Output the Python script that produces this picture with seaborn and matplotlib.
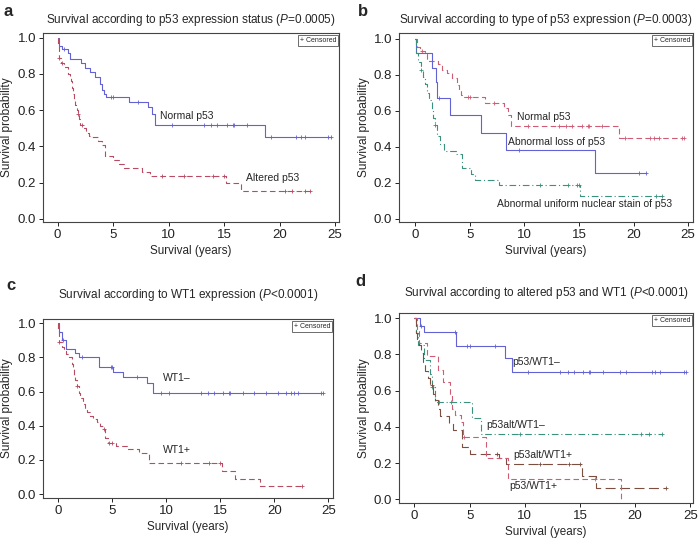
import numpy as np
import matplotlib
matplotlib.use("Agg")
import matplotlib.pyplot as plt
import seaborn as sns

sns.set_style("white")
plt.rcParams["font.family"] = ["Liberation Sans", "DejaVu Sans"]
plt.rcParams["mathtext.fontset"] = "custom"
plt.rcParams["mathtext.it"] = "Liberation Sans:italic"
plt.rcParams["mathtext.rm"] = "Liberation Sans"

# ---------------- data ----------------
# Panel a / b : normal p53
norm_t = [0, 0.15, 0.4, 0.9, 1.1, 2.1, 2.5, 2.9, 3.4, 3.8, 4.0, 4.2, 4.4, 6.4, 8.1, 8.5, 8.8, 18.7, 24.6]
norm_s = [1.0, 0.955, 0.935, 0.915, 0.88, 0.86, 0.83, 0.81, 0.785, 0.745, 0.71, 0.69, 0.675, 0.645, 0.615, 0.58, 0.515, 0.45, 0.45]
norm_c = [0.6, 4.8, 5.0, 7.2, 10.3, 13.2, 13.8, 14.4, 15.3, 15.8, 15.9, 17.1, 19.2, 21.5, 21.9, 22.3, 24.4, 24.6]

# Panel a : altered p53
alt_t = [0, 0.05, 0.1, 0.3, 0.6, 0.9, 1.1, 1.2, 1.3, 1.4, 1.5, 1.6, 1.7, 1.8, 1.9, 2.0, 2.3, 2.6, 2.8, 3.1, 3.6, 4.0, 4.3, 5.0, 5.5, 6.0, 7.6, 8.3, 15.2, 16.5, 22.7]
alt_s = [1.0, 0.96, 0.89, 0.86, 0.84, 0.80, 0.78, 0.76, 0.72, 0.69, 0.66, 0.63, 0.60, 0.58, 0.55, 0.52, 0.50, 0.475, 0.455, 0.45, 0.43, 0.405, 0.345, 0.325, 0.30, 0.28, 0.26, 0.235, 0.195, 0.155, 0.155]
alt_c = [0.1, 0.4, 1.8, 2.2, 9.4, 11.4, 14.0, 15.0, 20.5, 21.1, 22.3, 22.7]

# Panel b : abnormal loss / uniform nuclear stain
loss_t = [0, 0.1, 1.5, 1.9, 2.0, 3.2, 6.0, 8.3, 16.5, 21.1]
loss_s = [1.0, 0.92, 0.84, 0.76, 0.67, 0.575, 0.48, 0.385, 0.255, 0.255]
loss_c = [2.2, 9.5, 20.5, 21.1]

uni_t = [0, 0.1, 0.25, 0.5, 0.7, 0.9, 1.1, 1.3, 1.5, 1.6, 1.8, 2.0, 2.3, 2.6, 3.7, 4.3, 5.1, 5.5, 7.7, 15.1, 22.6]
uni_s = [1.0, 0.92, 0.87, 0.83, 0.79, 0.75, 0.70, 0.66, 0.61, 0.56, 0.52, 0.46, 0.415, 0.38, 0.36, 0.285, 0.25, 0.215, 0.19, 0.125, 0.125]
uni_c = [0.5, 1.8, 11.4, 14.0, 14.8, 15.0, 22.1, 22.6]

# Panel c : WT1
wneg_t = [0, 0.1, 0.4, 0.8, 1.6, 2.0, 3.8, 5.1, 6.0, 8.2, 8.8, 24.5]
wneg_s = [1.0, 0.95, 0.90, 0.85, 0.825, 0.80, 0.745, 0.715, 0.685, 0.65, 0.59, 0.59]
wneg_c = [0.5, 2.2, 4.9, 5.0, 7.3, 9.5, 10.3, 13.2, 13.9, 14.4, 15.3, 15.8, 15.9, 17.1, 18.1, 19.2, 20.3, 21.1, 21.5, 21.8, 22.2, 24.3, 24.5]

wpos_t = [0, 0.05, 0.1, 0.4, 0.6, 0.8, 1.0, 1.3, 1.4, 1.5, 1.6, 1.8, 2.0, 2.1, 2.3, 2.5, 2.7, 3.0, 3.3, 3.6, 3.9, 4.2, 4.4, 4.6, 5.4, 6.4, 7.5, 8.4, 15.2, 16.4, 18.7, 22.6]
wpos_s = [1.0, 0.96, 0.89, 0.86, 0.84, 0.82, 0.80, 0.76, 0.73, 0.70, 0.67, 0.63, 0.59, 0.56, 0.53, 0.50, 0.48, 0.46, 0.44, 0.42, 0.40, 0.38, 0.33, 0.30, 0.28, 0.265, 0.24, 0.18, 0.135, 0.09, 0.045, 0.045]
wpos_c = [0.1, 1.8, 4.25, 4.7, 5.0, 11.4, 14.0, 15.0, 22.6]

# Panel d : combined
nn_t = [0, 0.5, 0.9, 3.8, 8.2, 8.8, 24.6]
nn_s = [1.0, 0.96, 0.925, 0.845, 0.78, 0.705, 0.705]
nn_c = [0.6, 3.7, 4.8, 5.0, 7.3, 10.3, 13.2, 13.9, 14.5, 15.3, 15.8, 15.9, 17.1, 18.6, 19.2, 21.5, 21.8, 22.3, 24.4, 24.6]

an_t = [0, 0.1, 0.3, 0.9, 1.4, 1.6, 1.9, 5.2, 6.0, 22.4]
an_s = [1.0, 0.92, 0.85, 0.77, 0.69, 0.62, 0.54, 0.45, 0.36, 0.36]
an_c = [1.6, 2.2, 3.3, 9.6, 20.5, 21.3, 22.4]

ap_t = [0, 0.1, 0.2, 0.4, 0.6, 0.8, 1.0, 1.2, 1.4, 1.7, 1.9, 2.1, 2.3, 3.1, 3.5, 4.3, 5.0, 7.7, 8.3, 15.2, 16.5, 22.8]
ap_s = [1.0, 0.92, 0.88, 0.85, 0.81, 0.76, 0.71, 0.67, 0.63, 0.58, 0.55, 0.50, 0.46, 0.42, 0.385, 0.29, 0.25, 0.23, 0.195, 0.13, 0.065, 0.065]
ap_c = [1.6, 7.5, 11.4, 14.0, 15.0, 22.8]

pp_t = [0, 0.2, 0.4, 1.1, 2.1, 2.6, 3.2, 3.4, 3.7, 4.2, 4.4, 6.5, 8.5, 18.7]
pp_s = [1.0, 0.93, 0.865, 0.79, 0.715, 0.65, 0.57, 0.50, 0.465, 0.43, 0.345, 0.227, 0.115, 0.0]
pp_c = [4.5, 16.4]

titles = [
    r"Survival according to p53 expression status ($\mathit{P}$=0.0005)",
    r"Survival according to type of p53 expression ($\mathit{P}$=0.0003)",
    r"Survival according to WT1 expression ($\mathit{P}$<0.0001)",
    r"Survival according to altered p53 and WT1 ($\mathit{P}$<0.0001)",
]
x_ticks = [0, 5, 10, 15, 20, 25]
y_ticks = [0.0, 0.2, 0.4, 0.6, 0.8, 1.0]

BLUE = "#6262D4"
RED = "#B84A62"
PINK = "#CF5C74"
TEAL = "#3A917E"
BROWN = "#7C4E40"

SOLID = "-"
DASH = (0, (5, 3))
DASHDOT = (0, (6, 2.5, 1, 2.5))
LONGDASH = (0, (9, 4))

fig = plt.figure(figsize=(6.99, 5.38), dpi=100)

def km(ax, t, s, c, color, ls):
    t = np.asarray(t, float)
    s = np.asarray(s, float)
    sns.lineplot(x=t, y=s, drawstyle="steps-post", color=color, linestyle=ls,
                 linewidth=0.8, estimator=None, ax=ax)
    c = np.asarray(c, float)
    idx = np.searchsorted(t, c, side="right") - 1
    sns.scatterplot(x=c, y=s[idx], marker="+", s=11, color=color, linewidth=0.6, ax=ax,
                    zorder=3)

def style(ax, title, xlim, ylim, title_pad):
    ax.set_xlim(*xlim)
    ax.set_ylim(*ylim)
    ax.set_xticks(x_ticks)
    ax.set_yticks(y_ticks)
    ax.set_yticklabels([f"{v:.1f}" for v in y_ticks])
    ax.tick_params(axis="both", direction="out", length=3, width=0.7, labelsize=9.5,
                   colors="#222222", left=True, bottom=True, pad=2)
    for sp in ax.spines.values():
        sp.set_color("#444444")
        sp.set_linewidth(0.8)
    ax.set_xlabel("Survival (years)", fontsize=8.4, labelpad=3)
    ax.set_ylabel("Survival probability", fontsize=8.6, labelpad=3)
    ax.set_title(title, fontsize=8.5, pad=title_pad)
    ax.text(0.99, 0.978, "+ Censored", transform=ax.transAxes, ha="right", va="top",
            fontsize=5, bbox=dict(boxstyle="square,pad=0.25", fc="white", ec="#555555", lw=0.6))

LBL = 7.5

# Panel a
axa = fig.add_axes([0.0615, 0.5874, 0.4235, 0.3513])
km(axa, norm_t, norm_s, norm_c, BLUE, SOLID)
km(axa, alt_t, alt_s, alt_c, RED, DASH)
style(axa, titles[0], (-1.32, 25.35), (-0.018, 1.026), 7)
axa.text(9.2, 0.565, "Normal p53", fontsize=LBL, va="center")
axa.text(17.0, 0.227, "Altered p53", fontsize=LBL, va="center")

# Panel b
axb = fig.add_axes([0.571, 0.5874, 0.4206, 0.3513])
km(axb, norm_t, norm_s, norm_c, PINK, DASH)
km(axb, loss_t, loss_s, loss_c, BLUE, SOLID)
km(axb, uni_t, uni_s, uni_c, TEAL, DASHDOT)
style(axb, titles[1], (-1.47, 25.46), (-0.017, 1.033), 7)
axb.text(9.3, 0.565, "Normal p53", fontsize=LBL, va="center")
axb.text(8.5, 0.43, "Abnormal loss of p53", fontsize=LBL, va="center")
axb.text(7.5, 0.083, "Abnormal uniform nuclear stain of p53", fontsize=LBL, va="center")

# Panel c
axc = fig.add_axes([0.0615, 0.0743, 0.415, 0.3327])
km(axc, wneg_t, wneg_s, wneg_c, BLUE, SOLID)
km(axc, wpos_t, wpos_s, wpos_c, RED, DASH)
style(axc, titles[2], (-1.36, 25.43), (-0.023, 1.025), 15)
axc.text(9.7, 0.68, "WT1\u2013", fontsize=LBL, va="center")
axc.text(9.7, 0.258, "WT1+", fontsize=LBL, va="center")

# Panel d
axd = fig.add_axes([0.571, 0.065, 0.4206, 0.3532])
km(axd, nn_t, nn_s, nn_c, BLUE, SOLID)
km(axd, an_t, an_s, an_c, TEAL, DASHDOT)
km(axd, ap_t, ap_s, ap_c, BROWN, LONGDASH)
km(axd, pp_t, pp_s, pp_c, PINK, DASH)
style(axd, titles[3], (-1.39, 25.26), (-0.02, 1.029), 12)
axd.text(8.9, 0.76, "p53/WT1\u2013", fontsize=LBL, va="center")
axd.text(6.55, 0.41, "p53alt/WT1\u2013", fontsize=LBL, va="center")
axd.text(9.0, 0.245, "p53alt/WT1+", fontsize=LBL, va="center")
axd.text(8.6, 0.074, "p53/WT1+", fontsize=LBL, va="center")

# panel letters
for lab, x, y in [("a", 4, 12), ("b", 358, 12), ("c", 6, 286), ("d", 355, 282)]:
    fig.text(x / 699, 1 - y / 538, lab, fontsize=12, fontweight="bold", va="center", ha="left")

fig.savefig("out.png", dpi=100)
